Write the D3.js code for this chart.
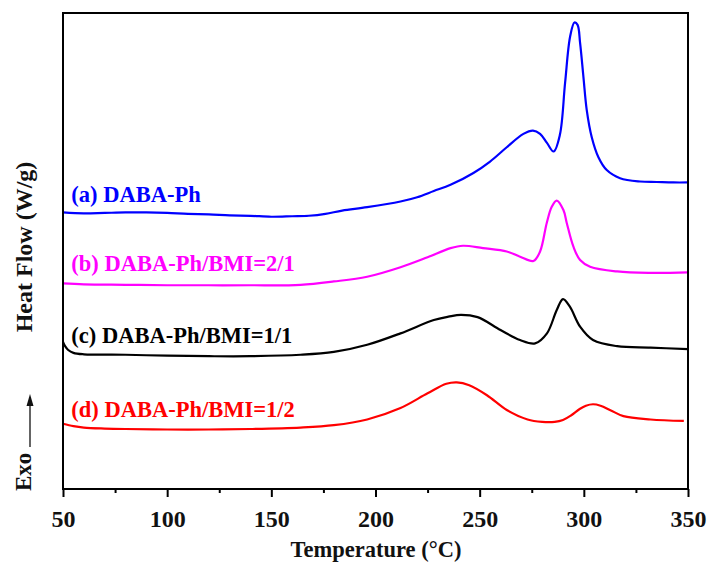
<!DOCTYPE html>
<html><head><meta charset="utf-8">
<script src="https://cdn.jsdelivr.net/npm/d3@7"></script>
<style>body{margin:0;background:#fff}svg{display:block}text{font-family:"Liberation Serif","Times New Roman",serif;font-weight:bold}</style>
</head><body>
<svg id="c" width="709" height="565"></svg>
<script>
// Temperature (°C) and heat flow (arbitrary offset units)
const tA = [50,60,70,80,90,100,110,120,130,140,150,160,168,176,184,196,212,220,228,236,247,255,263,271,275.6,279,282.3,285.5,288.5,291,293.4,295.5,297,298.2,299.8,301.4,303.8,307,311,317.4,327,335,343,350];
const hA = [5.81,5.79,5.80,5.81,5.81,5.80,5.78,5.77,5.75,5.74,5.72,5.73,5.74,5.78,5.85,5.92,6.04,6.13,6.26,6.39,6.64,6.88,7.18,7.46,7.53,7.46,7.27,7.09,7.44,8.53,9.50,9.80,9.75,9.37,8.66,7.96,7.39,6.97,6.70,6.53,6.46,6.45,6.44,6.44];

const tB = [50,60,80,100,120,140,164,180,196,212,225,236,242,251.6,263,269.4,275.8,279,282.2,284.6,287,290.2,291.8,295,298.2,303,316,332,350];
const hB = [4.32,4.30,4.29,4.28,4.28,4.28,4.29,4.36,4.46,4.66,4.87,5.06,5.11,5.06,4.99,4.88,4.79,4.99,5.59,5.93,6.06,5.86,5.59,5.09,4.81,4.67,4.57,4.54,4.55];

const tC = [50,51,52.5,55,60,80,100,120,140,164,180,196,212,228,235,241,249,260,269.4,276.6,282.3,287,290,293.3,298.2,304.4,316,332,350];
const hC = [3.09,3.00,2.92,2.86,2.83,2.82,2.80,2.79,2.79,2.82,2.88,3.03,3.27,3.55,3.62,3.66,3.61,3.34,3.13,3.06,3.27,3.76,3.99,3.83,3.41,3.13,3.00,2.97,2.94];

const tD = [50,55,60,70,80,100,120,140,164,180,196,212,225,234,239,245,253.5,263,273,280,286,290,294,298,301,304.4,308,313,319,332,348];
const hD = [1.37,1.32,1.29,1.27,1.26,1.25,1.25,1.26,1.29,1.34,1.46,1.70,2.01,2.21,2.24,2.18,1.97,1.66,1.46,1.41,1.41,1.45,1.55,1.68,1.75,1.78,1.75,1.65,1.53,1.46,1.43];

const seriesNames = ["(a) DABA-Ph","(b) DABA-Ph/BMI=2/1","(c) DABA-Ph/BMI=1/1","(d) DABA-Ph/BMI=1/2"];
const seriesColors = ["#0000ff","#ff00ff","#000000","#ff0000"];
const labelValues = [6.03, 4.59, 3.06, 1.52];
const labelTemp = 54;
const xTicks = [50,100,150,200,250,300,350];
const xMinor = [75,125,175,225,275,325];

const svg = d3.select("#c");
const m = {l:63, r:688, t:13, b:489};
const x = d3.scaleLinear().domain([50,350]).range([m.l, m.r]);
const y = d3.scaleLinear().domain([0,10]).range([m.b, m.t]);

const data = [[tA,hA],[tB,hB],[tC,hC],[tD,hD]].map(([t,h]) => t.map((v,i)=>({t:v,h:h[i]})));
const line = d3.line().x(d=>x(d.t)).y(d=>y(d.h)).curve(d3.curveCatmullRom.alpha(0.5));

svg.selectAll("path.s").data(data).enter().append("path")
  .attr("class","s").attr("d", line).attr("fill","none")
  .attr("stroke",(d,i)=>seriesColors[i]).attr("stroke-width",2.2);

// frame
svg.append("rect").attr("x",m.l).attr("y",m.t).attr("width",m.r-m.l).attr("height",m.b-m.t)
  .attr("fill","none").attr("stroke","#000").attr("stroke-width",2);

// x axis
const ax = svg.append("g").attr("transform",`translate(0,${m.b})`)
  .call(d3.axisBottom(x).tickValues(xTicks).tickSize(8).tickFormat(d3.format("d")));
ax.select(".domain").remove();
ax.selectAll(".tick line").attr("stroke","#000").attr("stroke-width",2);
ax.selectAll(".tick text").attr("font-size",24).attr("fill","#111").attr("dy",0).attr("y",38)
  .style("font-family","Liberation Serif").style("font-weight","bold");
const axm = svg.append("g").attr("transform",`translate(0,${m.b})`)
  .call(d3.axisBottom(x).tickValues(xMinor).tickSize(4).tickFormat(""));
axm.select(".domain").remove();
axm.selectAll(".tick line").attr("stroke","#000").attr("stroke-width",2);

// labels
svg.selectAll("text.lab").data(seriesNames).enter().append("text")
  .attr("class","lab").attr("x",x(labelTemp)).attr("y",(d,i)=>y(labelValues[i]))
  .attr("fill",(d,i)=>seriesColors[i]).attr("font-size",22.5).text(d=>d);

// axis titles
svg.append("text").attr("x",376).attr("y",557).attr("text-anchor","middle")
  .attr("font-size",22.5).attr("fill","#111").text("Temperature (°C)");
svg.append("text").attr("transform","translate(32,247) rotate(-90)").attr("text-anchor","middle")
  .attr("font-size",24).attr("fill","#111").text("Heat Flow (W/g)");
svg.append("text").attr("transform","translate(31,491) rotate(-90)").attr("text-anchor","start")
  .attr("font-size",23).attr("fill","#111").text("Exo");
// arrow
svg.append("line").attr("x1",30).attr("x2",30).attr("y1",447).attr("y2",403).attr("stroke","#111").attr("stroke-width",1.3);
svg.append("path").attr("d","M30,394 L26.5,406 L33.5,406 Z").attr("fill","#111");
</script>
</body></html>
